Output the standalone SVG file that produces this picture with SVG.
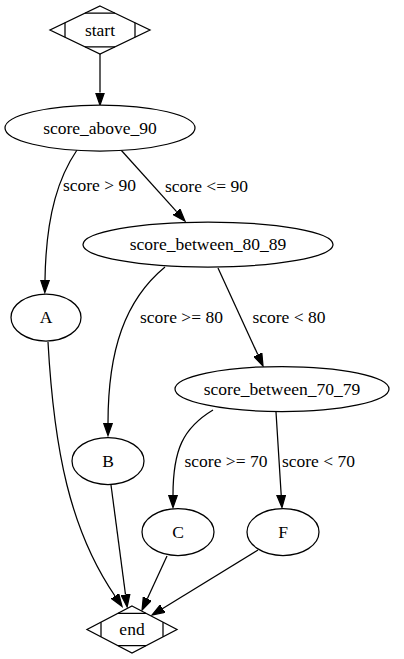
<svg xmlns="http://www.w3.org/2000/svg" width="404" height="659" viewBox="0 0 404 659">
  <style>
    .shape { fill: #ffffff; stroke: #000000; stroke-width: 1.25; }
    .mark { fill: none; stroke: #000000; stroke-width: 1.25; }
    text { font-family: 'Liberation Serif', 'DejaVu Serif', serif; font-size: 17.5px; fill: #000000; text-anchor: middle; }
    .edge { fill: none; stroke: #000000; stroke-width: 1.25; marker-end: url(#arrow); }
  </style>
  <defs>
    <marker id="arrow" markerUnits="userSpaceOnUse" viewBox="0 -5 14 10" markerWidth="14" markerHeight="10" refX="0" refY="0" orient="auto">
      <path d="M0,-4.4 L12.5,0 L0,4.4 Z" fill="#000000" stroke="#000000" stroke-width="1.25"/>
    </marker>
  </defs>
  <rect width="404" height="659" fill="#ffffff"/>

  <!-- connectors -->
  <g id="edges" font-family="Liberation Serif, serif">
    <path class="edge" d="M100,54 L100,92.5"/>
    <path class="edge" d="M77,150 C60,175 46,212 45,280"/>
    <text x="99.5" y="191">score &gt; 90</text>
    <path class="edge" d="M121,150 L176.6,211.7"/>
    <text x="206.5" y="192">score &lt;= 90</text>
    <path class="edge" d="M165,267 C125,300 108,350 108,423"/>
    <text x="181.5" y="323">score &gt;= 80</text>
    <path class="edge" d="M218,268 L257.8,354.6"/>
    <text x="289" y="323">score &lt; 80</text>
    <path class="edge" d="M213,410 C183,428 173,450 173,495"/>
    <text x="226" y="467">score &gt;= 70</text>
    <path class="edge" d="M276,412 L281.2,495"/>
    <text x="318.5" y="467">score &lt; 70</text>
    <path class="edge" d="M48,342 C54,450 70,530 115,596"/>
    <path class="edge" d="M111,485 L125.5,594.6"/>
    <path class="edge" d="M167,556 L147.3,598.7"/>
    <path class="edge" d="M258,550 L162.7,608.5"/>
  </g>

  <!-- nodes -->
  <g id="start">
    <polygon class="shape" points="100,6 150,30 100,54 50,30"/>
    <path class="mark" d="M65,22.8 L65,37.2 M135,22.8 L135,37.2 M85,13.2 L115,13.2 M85,46.8 L115,46.8"/>
    <text x="100" y="35.5">start</text>
  </g>
  <g id="score_above_90">
    <ellipse class="shape" cx="100" cy="128" rx="95" ry="23"/>
    <text x="100" y="133.5">score_above_90</text>
  </g>
  <g id="score_between_80_89">
    <ellipse class="shape" cx="208" cy="244.5" rx="125" ry="22.5"/>
    <text x="208" y="250">score_between_80_89</text>
  </g>
  <g id="score_between_70_79">
    <ellipse class="shape" cx="282" cy="389" rx="107" ry="22.5"/>
    <text x="282" y="394.5">score_between_70_79</text>
  </g>
  <g id="A">
    <ellipse class="shape" cx="46" cy="317.5" rx="35" ry="23.5"/>
    <text x="46" y="323">A</text>
  </g>
  <g id="B">
    <ellipse class="shape" cx="108" cy="461" rx="36" ry="23.5"/>
    <text x="108" y="466.5">B</text>
  </g>
  <g id="C">
    <ellipse class="shape" cx="178" cy="532" rx="36" ry="23.5"/>
    <text x="178" y="537.5">C</text>
  </g>
  <g id="F">
    <ellipse class="shape" cx="283" cy="532" rx="36" ry="23.5"/>
    <text x="283" y="537.5">F</text>
  </g>
  <g id="end">
    <polygon class="shape" points="132,606 177,629.5 132,653 87,629.5"/>
    <path class="mark" d="M101,622.2 L101,636.8 M163,622.2 L163,636.8 M118,613.3 L146,613.3 M118,645.7 L146,645.7"/>
    <text x="132" y="635">end</text>
  </g>
</svg>
